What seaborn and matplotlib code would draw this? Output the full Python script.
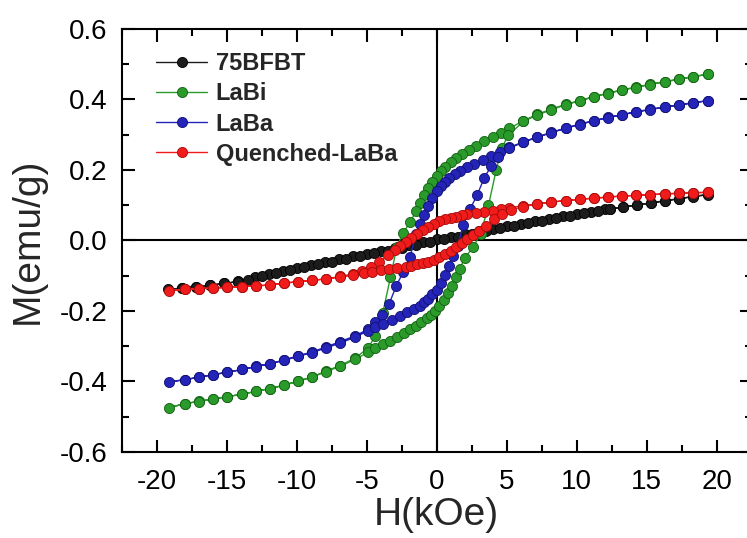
import seaborn as sns
import matplotlib.pyplot as plt
import pandas as pd
from matplotlib.ticker import MultipleLocator, FormatStrFormatter

sns.set_style("ticks")
plt.rcParams['font.family'] = ['Liberation Sans', 'DejaVu Sans']
plt.rcParams['axes.unicode_minus'] = False

# 75BFBT: descending branch then ascending branch
bf_h = [19.4, 18.3, 17.3, 16.3, 15.3, 14.3, 13.3, 12.4, 12, 11, 10, 9, 8, 7, 6, 5, 4, 3, 2, 1, 0,
        -1, -2, -3, -4, -5, -6, -7, -8, -9, -10, -11, -12, -13, -14.2, -15.2, -16.2, -17.2, -18.2, -19.2,
        -18.2, -17.2, -16.2, -15.2, -14.2, -13.5, -12.5, -11.5, -10.5, -9.5, -8.5, -7.5, -6.5, -5.5, -4.5,
        -3.5, -2.5, -1.5, -0.5, 0.5, 1.5, 2.5, 3.5, 4.5, 5.5, 6.5, 7.5, 8.5, 9.5, 10.5, 11.5,
        12.4, 13.3, 14.3, 15.3, 16.3, 17.3, 18.3, 19.4]
bf_m = [0.131, 0.125, 0.119, 0.113, 0.107, 0.101, 0.095, 0.090, 0.088, 0.082, 0.076, 0.069, 0.062, 0.055,
        0.048, 0.041, 0.034, 0.026, 0.018, 0.010, 0.003, -0.005, -0.013, -0.021, -0.029, -0.037, -0.045,
        -0.053, -0.061, -0.069, -0.078, -0.087, -0.096, -0.105, -0.116, -0.122, -0.127, -0.131, -0.135,
        -0.139, -0.135, -0.131, -0.127, -0.122, -0.117, -0.111, -0.102, -0.093, -0.085, -0.076, -0.068,
        -0.060, -0.052, -0.044, -0.036, -0.029, -0.021, -0.013, -0.005, 0.003, 0.011, 0.019, 0.027,
        0.035, 0.042, 0.049, 0.056, 0.063, 0.070, 0.077, 0.084, 0.089, 0.094, 0.100, 0.106, 0.112,
        0.118, 0.124, 0.130]

# LaBi
bi_h = [19.4, 18.3, 17.3, 16.3, 15.2, 14.2, 13.2, 12.2, 11.2, 10.2, 9.2, 8.2, 7.2, 6.2, 5.2, 4.6, 4.0,
        3.4, 2.8, 2.3, 1.8, 1.4, 1.0, 0.6, 0.3, 0.0, -0.3, -0.6, -0.9, -1.2, -1.45, -1.9, -2.4, -2.85,
        -3.3, -3.85, -4.4, -4.9, -5.8, -6.9, -7.9, -8.9, -9.9, -10.9, -11.9, -12.9, -13.9, -15.0, -16.0,
        -17.0, -18.0, -19.1,
        -18.0, -17.0, -16.0, -15.0, -13.9, -12.9, -11.9, -10.9, -9.9, -8.9, -7.9, -6.9, -5.8, -4.9, -4.4,
        -3.8, -3.3, -2.8, -2.3, -1.9, -1.5, -1.1, -0.7, -0.4, -0.1, 0.2, 0.5, 0.8, 1.1, 1.4, 1.65, 2.0,
        2.6, 3.15, 3.7, 4.25, 4.65, 5.1, 6.2, 7.2, 8.2, 9.2, 10.2, 11.2, 12.2, 13.2, 14.2, 15.2, 16.3,
        17.3, 18.3, 19.4]
bi_m = [0.472, 0.465, 0.458, 0.451, 0.443, 0.435, 0.427, 0.418, 0.408, 0.397, 0.386, 0.373, 0.358,
        0.340, 0.318, 0.305, 0.293, 0.281, 0.269, 0.258, 0.246, 0.235, 0.223, 0.209, 0.196, 0.182,
        0.166, 0.148, 0.128, 0.106, 0.085, 0.052, 0.022, -0.019, -0.104, -0.205, -0.272, -0.305,
        -0.333, -0.355, -0.370, -0.388, -0.399, -0.411, -0.420, -0.428, -0.436, -0.443, -0.450,
        -0.456, -0.463, -0.474,
        -0.463, -0.457, -0.450, -0.444, -0.436, -0.428, -0.420, -0.410, -0.399, -0.387, -0.372,
        -0.357, -0.337, -0.317, -0.306, -0.294, -0.284, -0.273, -0.262, -0.252, -0.242, -0.232,
        -0.221, -0.211, -0.200, -0.186, -0.170, -0.150, -0.128, -0.104, -0.080, -0.050, -0.019,
        0.019, 0.100, 0.200, 0.262, 0.298, 0.338, 0.356, 0.371, 0.385, 0.396, 0.407, 0.417, 0.426,
        0.434, 0.442, 0.450, 0.457, 0.464, 0.472]

# LaBa
ba_h = [19.4, 18.3, 17.3, 16.3, 15.2, 14.2, 13.2, 12.2, 11.2, 10.2, 9.2, 8.2, 7.2, 6.2, 5.2, 4.5, 3.9,
        3.3, 2.7, 2.2, 1.7, 1.3, 0.9, 0.6, 0.3, 0.0, -0.3, -0.6, -0.9, -1.2, -1.5, -1.9, -2.4, -2.9,
        -3.4, -3.9, -4.4, -4.9, -5.8, -6.9, -7.9, -8.9, -9.9, -10.9, -11.9, -12.9, -13.9, -15.0, -16.0,
        -17.0, -18.0, -19.1,
        -18.0, -17.0, -16.0, -15.0, -13.9, -12.9, -11.9, -10.9, -9.9, -8.9, -7.9, -6.9, -5.8, -4.9, -4.4,
        -3.8, -3.2, -2.6, -2.1, -1.6, -1.2, -0.9, -0.6, -0.3, 0.0, 0.3, 0.6, 0.9, 1.2, 1.5, 1.9, 2.4,
        2.9, 3.4, 3.9, 4.4, 5.2, 6.2, 7.2, 8.2, 9.2, 10.2, 11.2, 12.2, 13.2, 14.2, 15.2, 16.3, 17.3,
        18.3, 19.4]
ba_m = [0.397, 0.391, 0.385, 0.379, 0.372, 0.365, 0.357, 0.349, 0.340, 0.330, 0.319, 0.307, 0.294,
        0.280, 0.264, 0.251, 0.240, 0.229, 0.218, 0.208, 0.198, 0.189, 0.178, 0.167, 0.155, 0.140,
        0.120, 0.098, 0.073, 0.046, 0.018, -0.047, -0.090, -0.130, -0.180, -0.210, -0.232, -0.252,
        -0.270, -0.287, -0.302, -0.316, -0.327, -0.339, -0.349, -0.357, -0.366, -0.374, -0.381,
        -0.388, -0.395, -0.401,
        -0.395, -0.388, -0.381, -0.374, -0.366, -0.358, -0.350, -0.340, -0.329, -0.318, -0.305,
        -0.291, -0.274, -0.256, -0.246, -0.236, -0.225, -0.214, -0.204, -0.194, -0.185, -0.175,
        -0.165, -0.153, -0.140, -0.120, -0.098, -0.072, -0.045, -0.017, 0.045, 0.090, 0.130, 0.178,
        0.212, 0.236, 0.262, 0.279, 0.293, 0.306, 0.318, 0.329, 0.339, 0.348, 0.356, 0.364, 0.371,
        0.378, 0.384, 0.390, 0.397]

# Quenched-LaBa
qb_h = [19.4, 18.3, 17.3, 16.3, 15.2, 14.2, 13.2, 12.2, 11.2, 10.2, 9.2, 8.2, 7.2, 6.2, 5.2, 4.6, 4.0,
        3.4, 2.8, 2.2, 1.8, 1.4, 1.0, 0.6, 0.2, -0.2, -0.6, -1.0, -1.4, -1.8, -2.2, -2.6, -3.0, -3.5,
        -4.1, -4.7, -5.3, -6.0, -6.9, -7.9, -8.9, -9.9, -10.9, -11.9, -12.9, -13.9, -15.0, -16.0, -17.0,
        -18.0, -19.1,
        -18.0, -17.0, -16.0, -15.0, -13.9, -12.9, -11.9, -10.9, -9.9, -8.9, -7.9, -6.9, -6.0, -5.2,
        -4.6, -4.0, -3.4, -2.8, -2.2, -1.8, -1.4, -1.0, -0.6, -0.2, 0.2, 0.6, 1.0, 1.4, 1.8, 2.2, 2.6,
        3.0, 3.5, 4.1, 4.7, 5.3, 6.2, 7.2, 8.2, 9.2, 10.2, 11.2, 12.2, 13.2, 14.2, 15.2, 16.3, 17.3,
        18.3, 19.4]
qb_m = [0.137, 0.135, 0.134, 0.132, 0.130, 0.128, 0.126, 0.123, 0.120, 0.117, 0.113, 0.109, 0.104,
        0.099, 0.093, 0.088, 0.085, 0.082, 0.079, 0.076, 0.072, 0.068, 0.065, 0.061, 0.056, 0.048,
        0.039, 0.030, 0.019, 0.008, -0.004, -0.016, -0.028, -0.042, -0.060, -0.075, -0.087, -0.095,
        -0.102, -0.109, -0.113, -0.117, -0.121, -0.126, -0.129, -0.131, -0.133, -0.135, -0.137,
        -0.139, -0.142,
        -0.139, -0.137, -0.135, -0.133, -0.131, -0.129, -0.126, -0.121, -0.117, -0.113, -0.109,
        -0.104, -0.099, -0.093, -0.088, -0.085, -0.082, -0.079, -0.076, -0.072, -0.068, -0.065,
        -0.061, -0.056, -0.048, -0.039, -0.030, -0.019, -0.008, 0.004, 0.016, 0.028, 0.042, 0.060,
        0.075, 0.087, 0.096, 0.104, 0.109, 0.113, 0.117, 0.120, 0.123, 0.126, 0.128, 0.130, 0.132,
        0.134, 0.135, 0.137]

names = ["75BFBT", "LaBi", "LaBa", "Quenched-LaBa"]
colors = ["#1c1c1c", "#2a9a2a", "#2424b8", "#f01c1c"]
edges = ["#000000", "#136013", "#101070", "#a00c0c"]

fig = plt.figure(figsize=(7.47, 5.38), dpi=100)
ax = fig.add_axes([0.1629, 0.1599, 0.8434, 0.7862])

ax.axhline(0, color="black", lw=1.5, zorder=1)
ax.axvline(0, color="black", lw=1.5, zorder=1)

for name, h, m, c, ec in zip(names, [bf_h, bi_h, ba_h, qb_h], [bf_m, bi_m, ba_m, qb_m], colors, edges):
    df = pd.DataFrame({"H": h, "M": m})
    sns.lineplot(data=df, x="H", y="M", sort=False, estimator=None, ax=ax, color=c, lw=1,
                 marker="o", markersize=7.3, markeredgecolor=ec, markeredgewidth=0.6,
                 label=name, zorder=3)

ax.set_xlim(-22.5, 22.5)
ax.set_ylim(-0.6, 0.6)
ax.xaxis.set_major_locator(MultipleLocator(5))
ax.xaxis.set_minor_locator(MultipleLocator(2.5))
ax.yaxis.set_major_locator(MultipleLocator(0.2))
ax.yaxis.set_minor_locator(MultipleLocator(0.1))
ax.yaxis.set_major_formatter(FormatStrFormatter("%.1f"))
ax.tick_params(which="both", direction="in", top=True, right=True, width=1.5, colors="black")
ax.tick_params(which="major", length=9, labelsize=20)
ax.tick_params(which="minor", length=5)
ax.tick_params(axis="x", pad=12)
ax.tick_params(axis="y", pad=10)
for s in ax.spines.values():
    s.set_linewidth(1.5)
    s.set_color("black")

ax.set_xlabel("H(kOe)", fontsize=28, labelpad=2)
ax.set_ylabel("M(emu/g)", fontsize=28, labelpad=10)

ax.legend(loc="upper left", bbox_to_anchor=(0.02, 0.995), frameon=False, numpoints=1,
          prop={"weight": "bold", "size": 17}, handlelength=2.2, handletextpad=0.35,
          labelspacing=0.3)

fig.savefig("out.png", dpi=100)
